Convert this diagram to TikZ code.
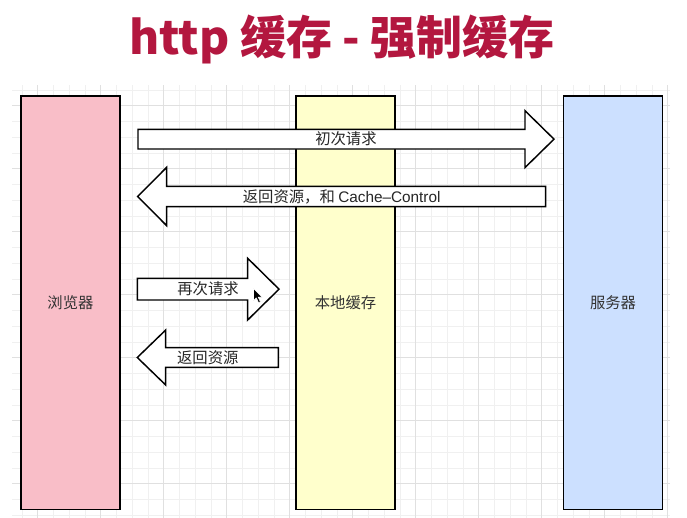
\documentclass[tikz,border=0pt]{standalone}
\usepackage{fontspec}
\setmainfont{Noto Sans CJK SC}
\newfontfamily\latinsans{Liberation Sans}
\definecolor{titlered}{HTML}{B3173F}
\definecolor{pinkfill}{HTML}{F9BEC8}
\definecolor{yellowfill}{HTML}{FFFFCC}
\definecolor{bluefill}{HTML}{CCE0FF}
\definecolor{gridminor}{HTML}{F0F0F0}
\definecolor{gridmajor}{HTML}{E0E0E0}
\begin{document}
\begin{tikzpicture}[x=0.75pt,y=-0.75pt,
  box/.style={draw=black,line width=1.1pt,inner sep=0pt,font=\fontsize{11.5}{13}\selectfont,text=black!80},
  blockarrow/.style={draw=black,fill=white,line width=1.1pt,line join=miter},
  lbl/.style={font=\fontsize{11.5}{13}\selectfont,text=black!85,inner sep=0pt},
  minorgrid/.style={draw=gridminor,line width=0.6pt},
  majorgrid/.style={draw=gridmajor,line width=0.8pt}]
\useasboundingbox (0,0) rectangle (687,518);
\fill[white] (0,0) rectangle (687,518);
% grid
\foreach \k in {0,...,41} {\pgfmathsetmacro\xx{22+15.75*\k}\draw[minorgrid] (\xx,85) -- (\xx,518);}
\foreach \k in {0,...,27} {\pgfmathsetmacro\yy{90+15.75*\k}\draw[minorgrid] (12,\yy) -- (670,\yy);}
\foreach \k in {1,5,...,41} {\pgfmathsetmacro\xx{22+15.75*\k}\draw[majorgrid] (\xx,85) -- (\xx,518);}
\foreach \k in {1,5,...,25} {\pgfmathsetmacro\yy{90+15.75*\k}\draw[majorgrid] (12,\yy) -- (670,\yy);}
% title
\node[font=\bfseries\fontsize{34.5}{40}\selectfont,text=titlered,inner sep=0pt] (title) at (342,39) {http 缓存 - 强制缓存};
% boxes
\node[box,fill=pinkfill,minimum width=74.25pt,minimum height=310.1pt] (browser) at (70.5,302.75) {浏览器};
\node[box,fill=yellowfill,minimum width=74.25pt,minimum height=310.1pt] (cache) at (345.5,302.75) {本地缓存};
\node[box,fill=bluefill,minimum width=74.25pt,minimum height=310.1pt] (server) at (613,302.75) {服务器};
% block arrows
\draw[blockarrow] (138,129.3) -- (525,129.3) -- (525,110.7) -- (554,139.15) -- (525,167.6) -- (525,149) -- (138,149) -- cycle;
\node[lbl] (req1) at (346,139.15) {初次请求};
\draw[blockarrow] (137.7,196.5) -- (166.7,167.3) -- (166.7,186.3) -- (545.7,186.3) -- (545.7,206.7) -- (166.7,206.7) -- (166.7,225.7) -- cycle;
\node[lbl] (resp1) at (341.7,196.5) {返回资源，和 {\latinsans Cache–Control}};
\draw[blockarrow] (137.3,278.3) -- (247.7,278.3) -- (247.7,258.3) -- (279,289.15) -- (247.7,320) -- (247.7,300) -- (137.3,300) -- cycle;
\node[lbl] (req2) at (208,289.15) {再次请求};
\draw[blockarrow] (137.3,357.5) -- (165.7,330) -- (165.7,347.7) -- (278.3,347.7) -- (278.3,367.3) -- (165.7,367.3) -- (165.7,385) -- cycle;
\node[lbl] (resp2) at (207.8,357.5) {返回资源};
% mouse cursor
\filldraw[fill=black,draw=white,line width=0.4pt,line join=round] (253.5,288.5) -- (253.5,300.5) -- (256.3,297.8) -- (258.6,302.6) -- (260.4,301.8) -- (258.2,297.2) -- (262,297) -- cycle;
\end{tikzpicture}
\end{document}
